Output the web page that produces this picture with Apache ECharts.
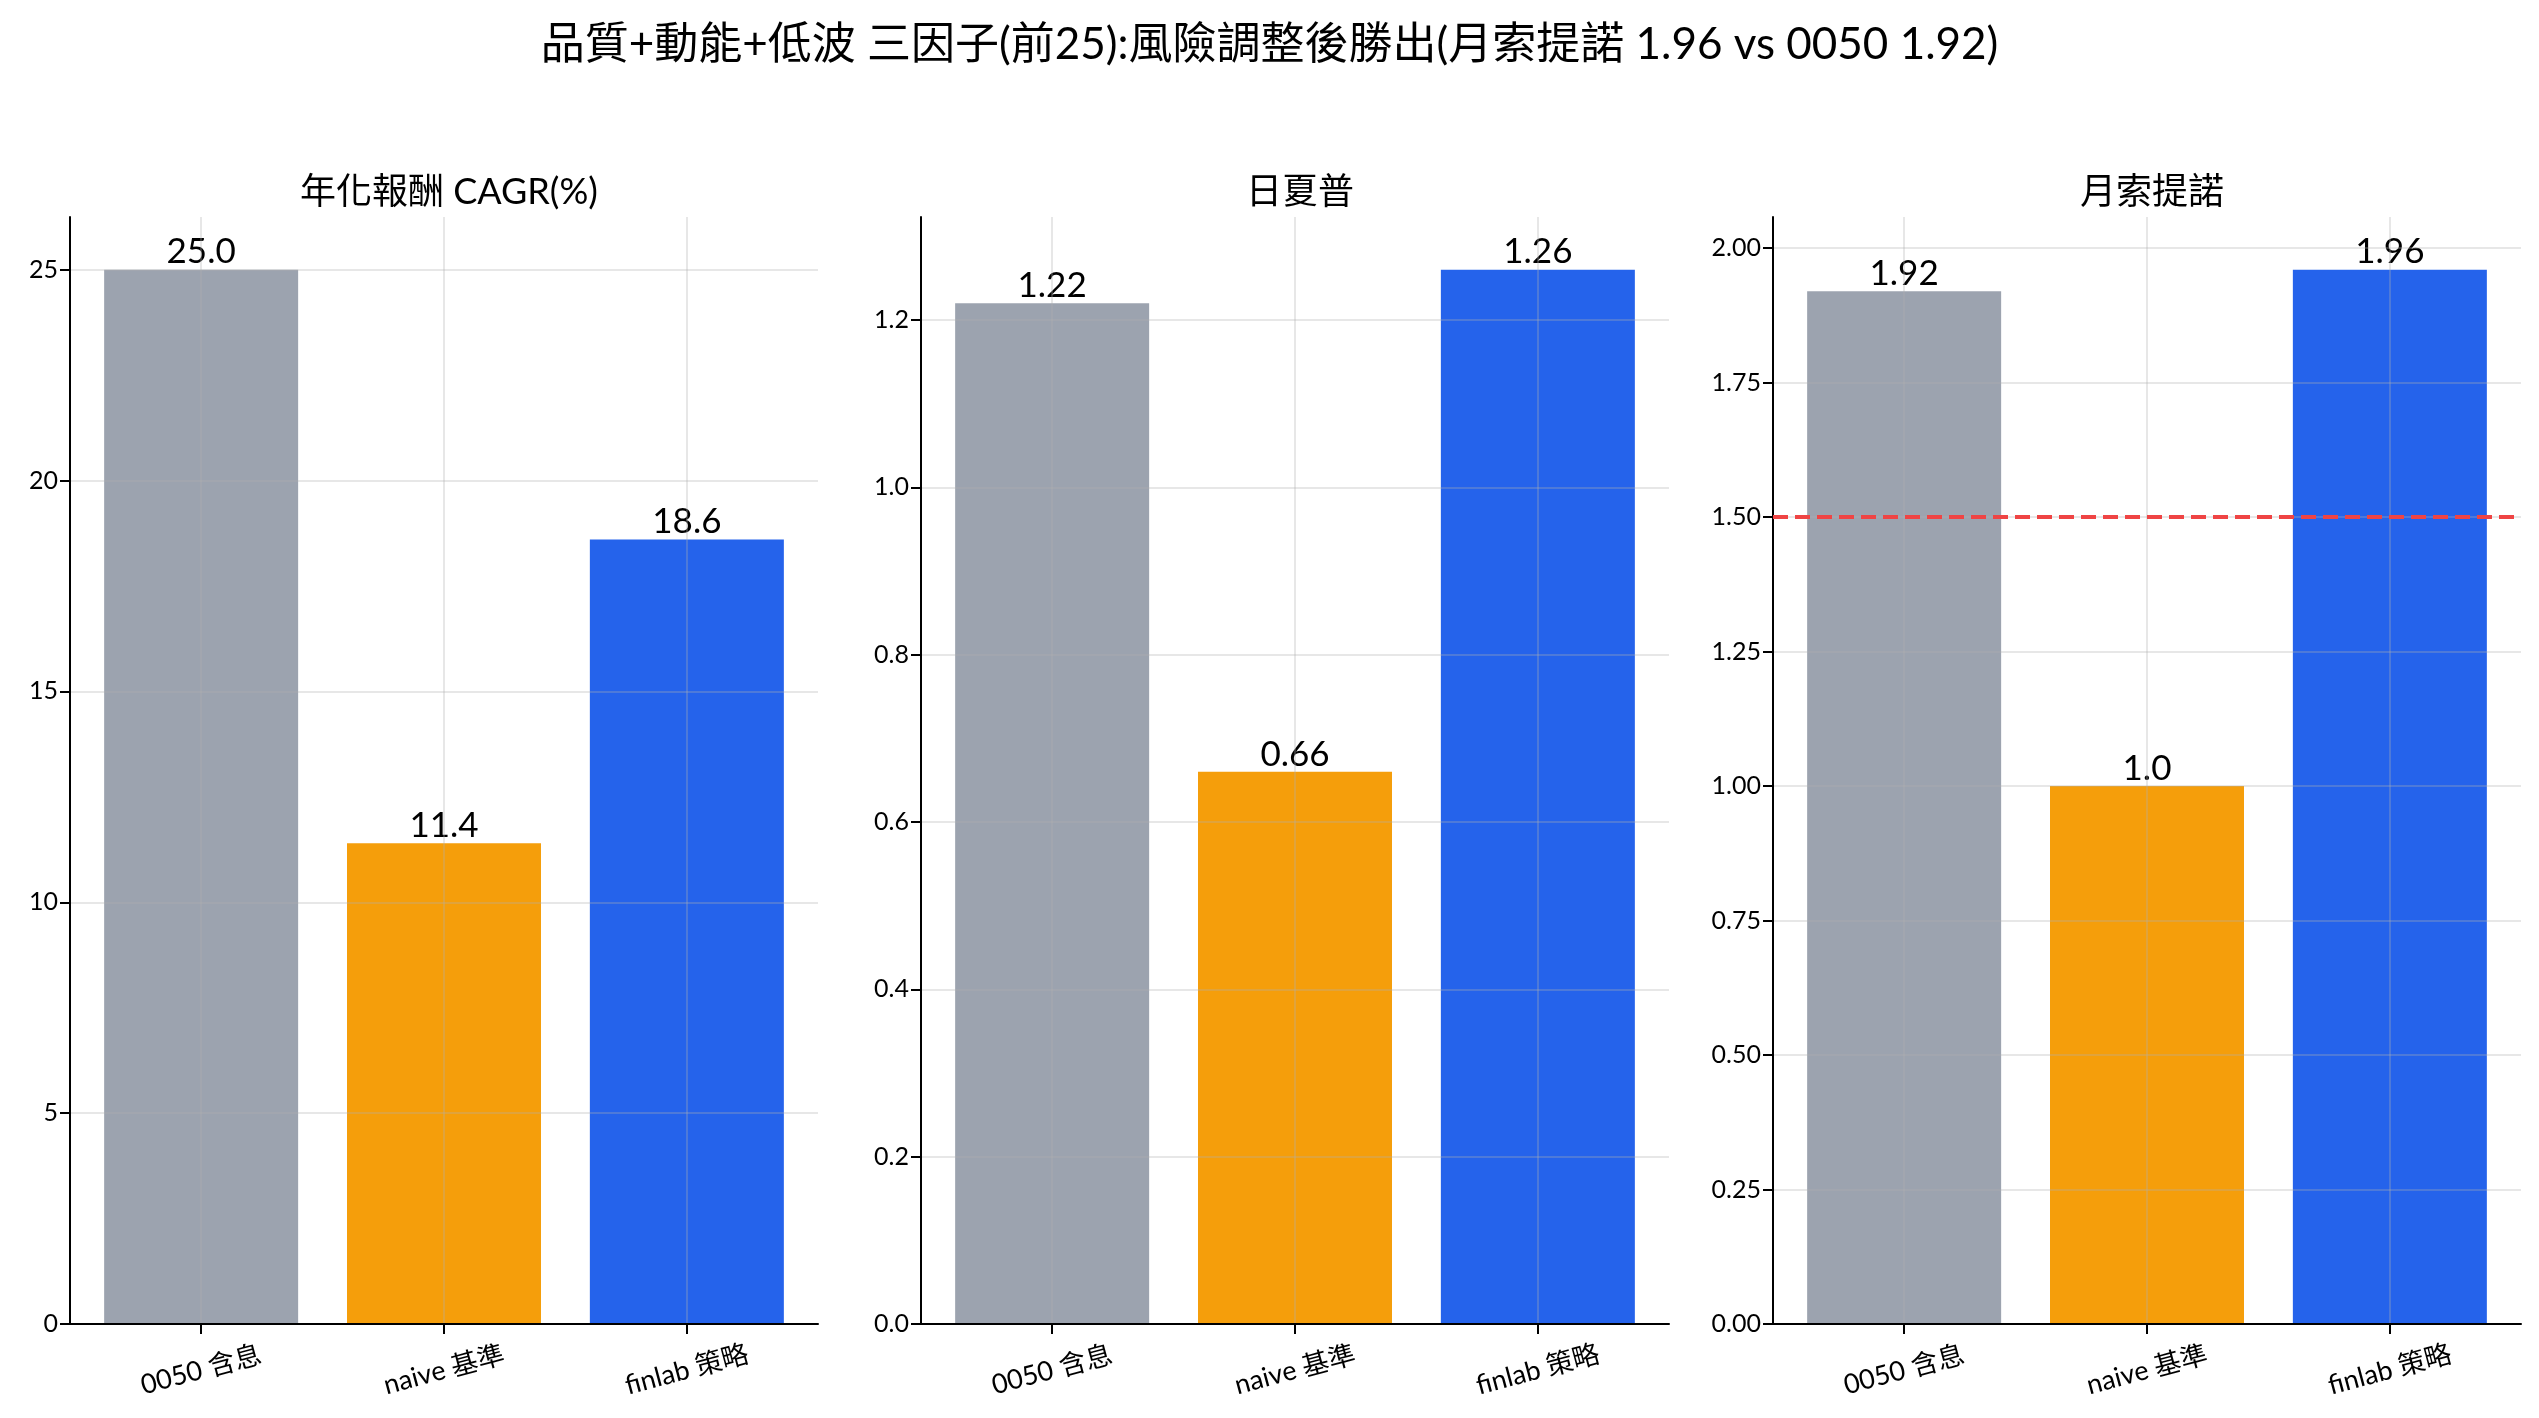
<!DOCTYPE html>
<html>
<head>
<meta charset="utf-8">
<script src="https://cdn.jsdelivr.net/npm/echarts@6/dist/echarts.min.js"></script>
<style>
html, body { margin: 0; padding: 0; background: #fff; }
#main { width: 2539px; height: 1418px; }
</style>
</head>
<body>
<div id="main"></div>
<script>
var categories = ['0050 含息', 'naive 基準', 'finlab 策略'];
var barColors = ['#9ca3af', '#f59e0b', '#2563eb'];

var panelTitles = ['年化報酬 CAGR(%)', '日夏普', '月索提諾'];
var cagrValues = [25.0, 11.4, 18.6];
var sharpeValues = [1.22, 0.66, 1.26];
var sortinoValues = [1.92, 1.0, 1.96];

var cagrTicks = [0, 5, 10, 15, 20, 25];
var sharpeTicks = [0, 0.2, 0.4, 0.6, 0.8, 1.0, 1.2];
var sortinoTicks = [0, 0.25, 0.5, 0.75, 1.0, 1.25, 1.5, 1.75, 2.0];
var tickDecimals = [0, 1, 2];
var sortinoTarget = 1.5;

var mainTitle = '品質+動能+低波 三因子(前25):風險調整後勝出(月索提諾 1.96 vs 0050 1.92)';

var font = "Lato, 'Noto Sans CJK TC', sans-serif";
var panels = [cagrValues, sharpeValues, sortinoValues];
var tickSets = [cagrTicks, sharpeTicks, sortinoTicks];
var gridColor = 'rgba(176,176,176,0.3)';

var lefts = [70, 921, 1773];
var plotW = 748;

function valueText(v) {
	return Number.isInteger(v) ? v.toFixed(1) : String(v);
}

var myChart = echarts.init(document.getElementById('main'));

var titles = [{
	text: mainTitle,
	left: 'center',
	top: 18,
	textStyle: { fontFamily: font, fontSize: 44, fontWeight: 'normal', color: '#000' }
}];
var grids = [], xAxes = [], yAxes = [], series = [];

for (var i = 0; i < 3; i++) {
	var vals = panels[i];
	var maxV = Math.max.apply(null, vals) * 1.05;
	titles.push({
		text: panelTitles[i],
		left: lefts[i] + plotW / 2,
		textAlign: 'center',
		top: 169,
		textStyle: { fontFamily: font, fontSize: 36, fontWeight: 'normal', color: '#000' }
	});
	grids.push({ left: lefts[i], width: plotW, top: 217, bottom: 94, containLabel: false });
	xAxes.push({
		type: 'value',
		gridIndex: i,
		min: -0.54,
		max: 2.54,
		z: 3,
		axisLine: { show: true, onZero: false, lineStyle: { color: '#000', width: 2 } },
		axisTick: { show: true, length: 10, lineStyle: { color: '#000', width: 2 }, customValues: [0, 1, 2] },
		axisLabel: {
			customValues: [0, 1, 2],
			formatter: function (v) { return categories[Math.round(v)]; },
			rotate: 15,
			align: 'center',
			verticalAlign: 'middle',
			margin: 46,
			fontFamily: font,
			fontSize: 27,
			color: '#000'
		},
		splitLine: { show: true, lineStyle: { color: gridColor, width: 2 } }
	});
	(function (dec) {
		yAxes.push({
			type: 'value',
			gridIndex: i,
			min: 0,
			max: maxV,
			z: 3,
			axisLine: { show: true, onZero: false, lineStyle: { color: '#000', width: 2 } },
			axisTick: { show: true, length: 10, lineStyle: { color: '#000', width: 2 }, customValues: tickSets[i] },
			axisLabel: {
				customValues: tickSets[i],
				formatter: function (v) { return v.toFixed(dec); },
				margin: 12,
				fontFamily: font,
				fontSize: 25,
				color: '#000'
			},
			splitLine: { show: true, lineStyle: { color: gridColor, width: 2 } }
		});
	})(tickDecimals[i]);

	var data = [];
	for (var j = 0; j < vals.length; j++) {
		data.push({ value: [j, vals[j]], itemStyle: { color: barColors[j] } });
	}
	var s = {
		type: 'bar',
		xAxisIndex: i,
		yAxisIndex: i,
		barWidth: 194,
		data: data,
		label: {
			show: true,
			position: 'top',
			distance: 0,
			formatter: function (p) { return valueText(p.value[1]); },
			fontFamily: font,
			fontSize: 35,
			color: '#000'
		}
	};
	if (i === 2) {
		s.markLine = {
			silent: true,
			symbol: 'none',
			label: { show: false },
			lineStyle: { color: '#ef4444', width: 4, type: [15, 7] },
			data: [{ yAxis: sortinoTarget }]
		};
	}
	series.push(s);
}

myChart.setOption({
	backgroundColor: '#fff',
	animation: false,
	title: titles,
	grid: grids,
	xAxis: xAxes,
	yAxis: yAxes,
	series: series
});
</script>
</body>
</html>
